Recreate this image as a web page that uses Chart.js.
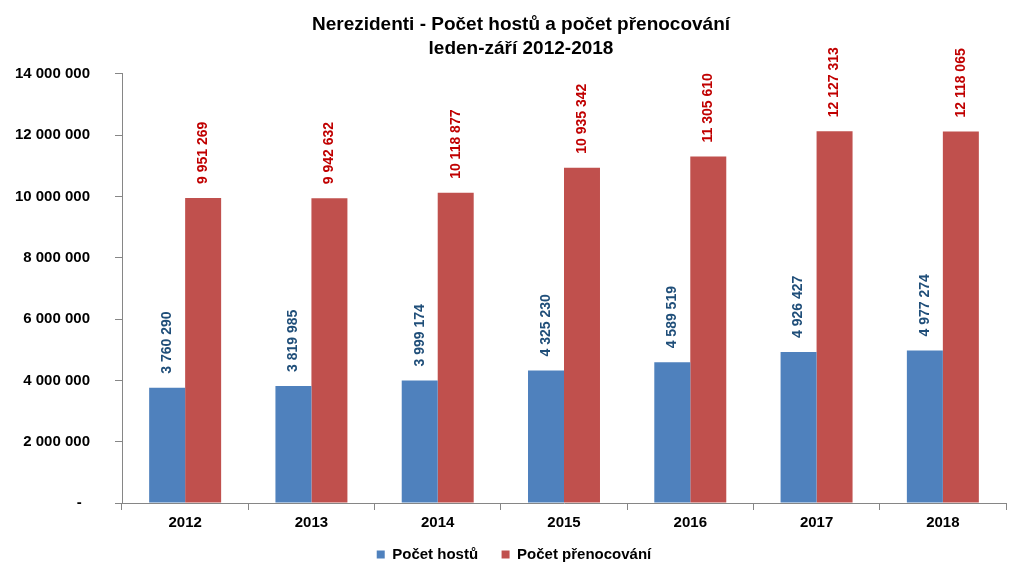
<!DOCTYPE html>
<html><head><meta charset="utf-8">
<script src="https://cdn.jsdelivr.net/npm/chart.js@4"></script>
<style>html,body{margin:0;padding:0;background:#fff}#w{width:1024px;height:575px}</style>
</head><body><div id="w"><canvas id="c" width="1024" height="575"></canvas></div>
<script>
const categories = ['2012','2013','2014','2015','2016','2017','2018'];
const pocetHostu = [3760290, 3819985, 3999174, 4325230, 4589519, 4926427, 4977274];
const pocetPrenocovani = [9951269, 9942632, 10118877, 10935342, 11305610, 12127313, 12118065];
const seriesNames = ['Počet hostů', 'Počet přenocování'];
const titleLines = ['Nerezidenti - Počet hostů a počet přenocování', 'leden-září 2012-2018'];
const yMin = 0, yMax = 14000000, yStep = 2000000;

const fmt = v => Math.round(v).toString().replace(/\B(?=(\d{3})+(?!\d))/g, ' ');
const FONT = "'Liberation Sans', Arial, sans-serif";

const labelPlugin = {
  id: 'vlabels',
  afterLayout(chart) {
    if (chart.titleBlock) chart.titleBlock.left += 36;
    if (chart.legend) chart.legend.left += 22;
  },
  afterDatasetsDraw(chart) {
    const ctx = chart.ctx;
    const colors = ['#1F4E79', '#C00000'];
    chart.data.datasets.forEach((ds, i) => {
      const meta = chart.getDatasetMeta(i);
      meta.data.forEach((bar, j) => {
        ctx.save();
        ctx.translate(bar.x, bar.y - 14);
        ctx.rotate(-Math.PI / 2);
        ctx.font = "bold 14px " + FONT;
        ctx.fillStyle = colors[i];
        ctx.textAlign = 'left';
        ctx.textBaseline = 'middle';
        ctx.fillText(fmt(ds.data[j]), 0, 0);
        ctx.restore();
      });
    });
  }
};

new Chart(document.getElementById('c'), {
  type: 'bar',
  data: {
    labels: categories,
    datasets: [
      { label: seriesNames[0], data: pocetHostu, backgroundColor: '#4F81BD', barPercentage: 1, categoryPercentage: 0.57 },
      { label: seriesNames[1], data: pocetPrenocovani, backgroundColor: '#C0504D', barPercentage: 1, categoryPercentage: 0.57 }
    ]
  },
  options: {
    responsive: false,
    animation: false,
    devicePixelRatio: 1,
    layout: { padding: { left: 0, right: 18, top: 0, bottom: 3 } },
    plugins: {
      title: {
        display: true,
        text: titleLines,
        color: '#000',
        font: { family: FONT, size: 19, weight: 'bold', lineHeight: 1.26 },
        padding: { top: 13, bottom: 13 }
      },
      legend: {
        position: 'bottom',
        labels: {
          color: '#000',
          boxWidth: 8, boxHeight: 8,
          font: { family: FONT, size: 15, weight: 'bold' },
          padding: 11,
          generateLabels(chart) {
            const items = Chart.defaults.plugins.legend.labels.generateLabels(chart);
            items.forEach((it, i) => { if (i < items.length - 1) it.text = it.text + '   '; it.lineWidth = 0; });
            return items;
          }
        }
      },
      tooltip: { enabled: false }
    },
    scales: {
      x: {
        grid: { display: true, drawOnChartArea: false, offset: true, tickLength: 7, color: '#868686' },
        border: { color: '#868686' },
        ticks: { color: '#000', font: { family: FONT, size: 15, weight: 'bold' }, padding: 4 }
      },
      y: {
        min: yMin, max: yMax,
        afterFit(s) { s.width = 122; },
        grid: { display: true, drawOnChartArea: false, tickLength: 7, color: '#868686' },
        border: { color: '#868686' },
        ticks: {
          stepSize: yStep,
          color: '#000',
          padding: 25,
          font: { family: FONT, size: 15, weight: 'bold' },
          callback: v => v === 0 ? '-  ' : fmt(v)
        }
      }
    }
  },
  plugins: [labelPlugin]
});
</script></body></html>
